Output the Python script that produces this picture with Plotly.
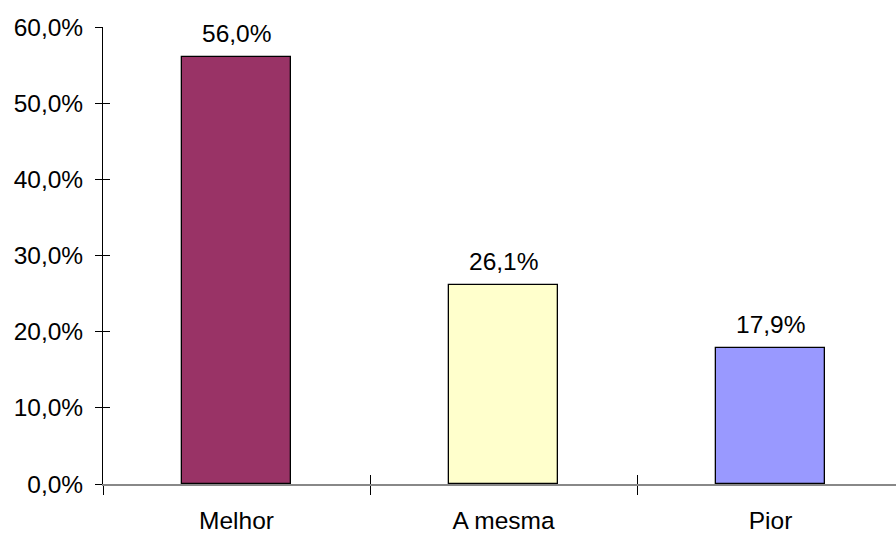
import plotly.graph_objects as go

categories = ["Melhor", "A mesma", "Pior"]
values = [0.560, 0.261, 0.179]
colors = ["#993366", "#FFFFCC", "#9999FF"]
y_ticks = [0, 0.1, 0.2, 0.3, 0.4, 0.5, 0.6]

def fmt(v):
    return f"{v*100:.1f}%".replace(".", ",")

FONT = "Liberation Sans, Arial, sans-serif"
FS = 24.5

fig = go.Figure()
fig.add_trace(go.Bar(
    x=categories, y=values, width=0.405,
    marker=dict(color=colors, line=dict(color="black", width=1.3)),
    showlegend=False, hoverinfo="skip",
))
# invisible helper trace for the crossing tick overlay axes
fig.add_trace(go.Bar(x=categories, y=[0, 0, 0], xaxis="x2", yaxis="y2",
                     opacity=0, showlegend=False, hoverinfo="skip"))

for c, v in zip(categories, values):
    fig.add_annotation(x=c, y=v, text=fmt(v), showarrow=False,
                       yanchor="bottom", yshift=8,
                       font=dict(family=FONT, size=FS, color="black"))

xr = [-0.5, 2.47]
yr = [0, 0.6]
fig.update_layout(
    width=896, height=535,
    margin=dict(l=103, r=0, t=27, b=51),
    paper_bgcolor="white", plot_bgcolor="white",
    separators=",.",
    font=dict(family=FONT, size=FS, color="black"),
    bargap=0,
    xaxis=dict(type="category", categoryorder="array", categoryarray=categories,
               range=xr, tickson="boundaries", ticks="outside", ticklen=9,
               tickcolor="black", tickwidth=1,
               showline=True, linecolor="#888888", linewidth=1.5,
               showgrid=False, zeroline=False, ticklabelstandoff=14,
               tickfont=dict(family=FONT, size=FS)),
    xaxis2=dict(type="category", categoryorder="array", categoryarray=categories,
                overlaying="x", anchor="y", range=xr, tickson="boundaries",
                ticks="inside", ticklen=9, tickcolor="black", tickwidth=1,
                showticklabels=False, showline=False, showgrid=False, zeroline=False),
    yaxis=dict(range=yr, tickvals=y_ticks, tickformat=".1%", ticks="outside",
               ticklen=7, tickcolor="black", tickwidth=1,
               showline=True, linecolor="black", linewidth=1,
               showgrid=False, zeroline=False, ticklabelstandoff=7,
               tickfont=dict(family=FONT, size=FS)),
    yaxis2=dict(range=yr, tickvals=y_ticks, overlaying="y", anchor="x",
                ticks="inside", ticklen=7, tickcolor="black", tickwidth=1,
                showticklabels=False, showline=False, showgrid=False, zeroline=False),
)

fig.write_html("out.html")
